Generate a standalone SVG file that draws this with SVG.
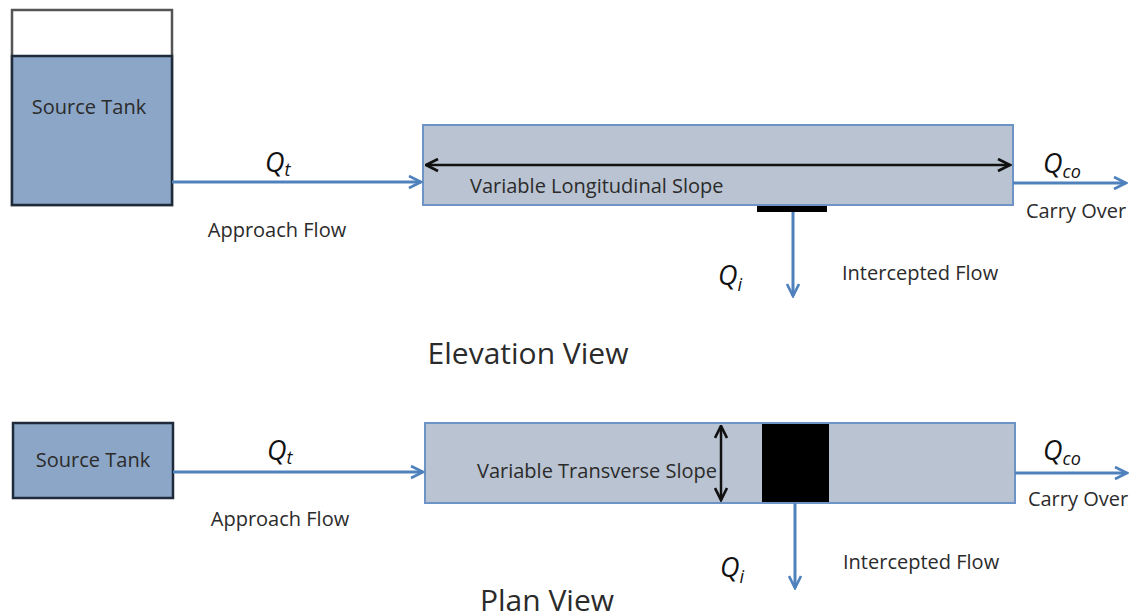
<svg xmlns="http://www.w3.org/2000/svg" width="1129" height="616" viewBox="0 0 1129 616">
<style>
.lbl{font-family:"Open Sans","Liberation Sans",sans-serif;font-size:20px;fill:#2b2b2b}
.q{font-family:"Open Sans","Liberation Sans",sans-serif;font-style:italic;font-size:27px;fill:#111}
.sub{font-size:18px}
.title{font-family:"Open Sans","Liberation Sans",sans-serif;font-size:30px;fill:#2b2b2b}
.flow{stroke:#4f81bd;stroke-width:3;fill:none}
.chan{fill:#b9c3d1;stroke:#6d94c7;stroke-width:2}
.tank{fill:#8ba6c6;stroke:#1f2a3a;stroke-width:2.5}
</style>
<defs>
<marker id="ab" viewBox="0 0 10 10" refX="9" refY="5" markerWidth="5" markerHeight="5" orient="auto-start-reverse" markerUnits="strokeWidth">
<path d="M1,1 L9,5 L1,9" fill="none" stroke="#4f81bd" stroke-width="1.8"/>
</marker>
<marker id="ak" viewBox="0 0 10 10" refX="9" refY="5" markerWidth="6" markerHeight="6" orient="auto-start-reverse" markerUnits="strokeWidth">
<path d="M1,1 L9,5 L1,9" fill="none" stroke="#111" stroke-width="1.8"/>
</marker>
</defs>

<g id="tank-top">
<rect x="12" y="10" width="160" height="195" fill="#fff" stroke="#555" stroke-width="2.5"/>
<rect class="tank" x="12" y="56" width="160" height="149"/>
<text class="lbl" x="89" y="114" text-anchor="middle">Source Tank</text>
</g>

<g id="channel-top">
<rect class="chan" x="423" y="125" width="590" height="80"/>
<line x1="426" y1="165" x2="1010" y2="165" stroke="#111" stroke-width="2.5" marker-start="url(#ak)" marker-end="url(#ak)"/>
<text class="lbl" x="470" y="193">Variable Longitudinal Slope</text>
<rect x="757" y="206" width="70" height="6" fill="#000"/>
</g>

<g id="tank-bottom">
<rect class="tank" x="13" y="423" width="160" height="75"/>
<text class="lbl" x="93" y="467" text-anchor="middle">Source Tank</text>
</g>

<g id="channel-bottom">
<rect class="chan" x="425" y="423" width="590" height="80"/>
<rect x="762" y="424" width="67" height="78" fill="#000"/>
<line x1="721" y1="426" x2="721" y2="500" stroke="#111" stroke-width="2.5" marker-start="url(#ak)" marker-end="url(#ak)"/>
<text class="lbl" x="477" y="478">Variable Transverse Slope</text>
</g>

<g id="connectors">
<line class="flow" x1="172" y1="182" x2="421" y2="182" marker-end="url(#ab)"/>
<line class="flow" x1="1013" y1="183" x2="1126" y2="183" marker-end="url(#ab)"/>
<line class="flow" x1="793" y1="212" x2="793" y2="296" marker-end="url(#ab)"/>
<line class="flow" x1="173" y1="472" x2="423" y2="472" marker-end="url(#ab)"/>
<line class="flow" x1="1015" y1="473" x2="1127" y2="473" marker-end="url(#ab)"/>
<line class="flow" x1="795" y1="503" x2="795" y2="588" marker-end="url(#ab)"/>
</g>

<g id="labels">
<text class="q" x="265" y="172">Q<tspan class="sub" dy="4">t</tspan></text>
<text class="lbl" x="277" y="237" text-anchor="middle">Approach Flow</text>
<text class="q" x="1043" y="173">Q<tspan class="sub" dy="5">co</tspan></text>
<text class="lbl" x="1076" y="218" text-anchor="middle">Carry Over</text>
<text class="q" x="718" y="285">Q<tspan class="sub" dy="6">i</tspan></text>
<text class="lbl" x="842" y="280">Intercepted Flow</text>
<text class="title" x="528" y="364" text-anchor="middle">Elevation View</text>

<text class="q" x="267" y="460">Q<tspan class="sub" dy="4">t</tspan></text>
<text class="lbl" x="280" y="526" text-anchor="middle">Approach Flow</text>
<text class="q" x="1043" y="460">Q<tspan class="sub" dy="5">co</tspan></text>
<text class="lbl" x="1078" y="506" text-anchor="middle">Carry Over</text>
<text class="q" x="720" y="577">Q<tspan class="sub" dy="6">i</tspan></text>
<text class="lbl" x="843" y="569">Intercepted Flow</text>
<text class="title" x="547" y="611" text-anchor="middle">Plan View</text>
</g>
</svg>
